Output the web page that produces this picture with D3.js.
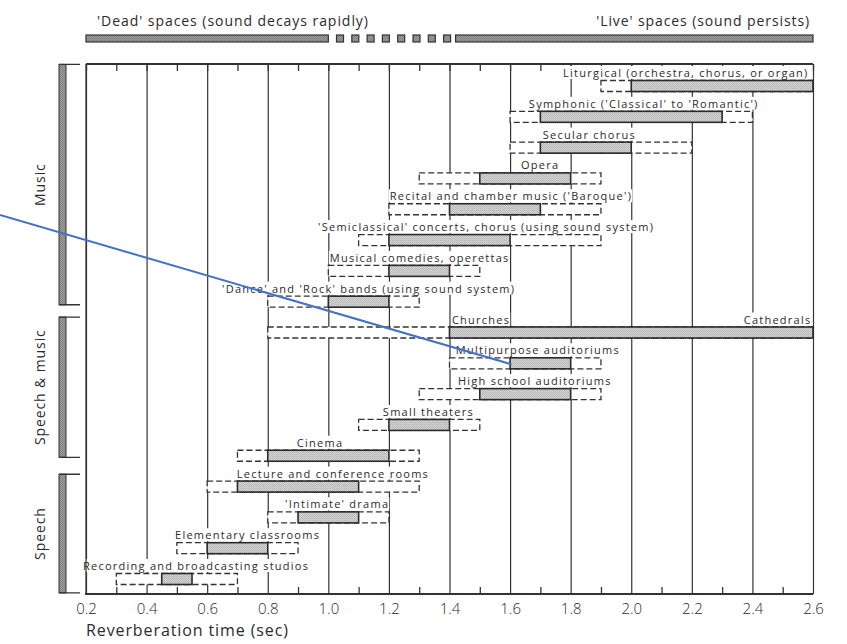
<!DOCTYPE html>
<html>
<head>
<meta charset="utf-8">
<script src="https://cdn.jsdelivr.net/npm/d3@7"></script>
<style>
  html, body { margin: 0; padding: 0; background: #fff; }
  svg { display: block; }
  text { font-family: "Open Sans", "DejaVu Sans", sans-serif; fill: #2b2b2b; }
</style>
</head>
<body>
<svg id="chart" width="847" height="644"></svg>
<script>
// Room types and their recommended reverberation times (seconds).
const rooms = [
  "Liturgical (orchestra, chorus, or organ)",
  "Symphonic ('Classical' to 'Romantic')",
  "Secular chorus",
  "Opera",
  "Recital and chamber music ('Baroque')",
  "'Semiclassical' concerts, chorus (using sound system)",
  "Musical comedies, operettas",
  "'Dance' and 'Rock' bands (using sound system)",
  "Churches",
  "Multipurpose auditoriums",
  "High school auditoriums",
  "Small theaters",
  "Cinema",
  "Lecture and conference rooms",
  "'Intimate' drama",
  "Elementary classrooms",
  "Recording and broadcasting studios"
];
// Acceptable range (dashed outline)
const rangeLow  = [1.9, 1.6, 1.6, 1.3, 1.2, 1.1, 1.0, 0.8, 0.8, 1.4, 1.3, 1.1, 0.7, 0.6, 0.8, 0.5, 0.3];
const rangeHigh = [2.6, 2.4, 2.2, 1.9, 1.9, 1.9, 1.5, 1.3, 2.6, 1.9, 1.9, 1.5, 1.3, 1.3, 1.2, 0.9, 0.7];
// Preferred range (shaded bar)
const bestLow   = [2.0, 1.7, 1.7, 1.5, 1.4, 1.2, 1.2, 1.0, 1.4, 1.6, 1.5, 1.2, 0.8, 0.7, 0.9, 0.6, 0.45];
const bestHigh  = [2.6, 2.3, 2.0, 1.8, 1.7, 1.6, 1.4, 1.2, 2.6, 1.8, 1.8, 1.4, 1.2, 1.1, 1.1, 0.8, 0.55];
// Where each caption starts, in seconds
const labelAt   = [1.775, 1.662, 1.708, 1.636, 1.203, 0.966, 1.005, 0.649, 1.408, 1.421, 1.428, 1.18, 0.896, 0.698, 0.857, 0.494, 0.19];

// Use groups (row span)
const groupNames = ["Music", "Speech & music", "Speech"];
const groupFrom  = [-0.7, 7.5, 12.6];
const groupTo    = [7.1, 12.05, 16.45];

const majorTicks = [0.2, 0.4, 0.6, 0.8, 1.0, 1.2, 1.4, 1.6, 1.8, 2.0, 2.2, 2.4, 2.6];
const minorTicks = [0.3, 0.5, 0.7, 0.9, 1.1, 1.3, 1.5, 1.7, 1.9, 2.1, 2.3, 2.5];

const svg = d3.select("#chart");

// Fine stipple used for the shaded bars
const defs = svg.append("defs");
const pat = defs.append("pattern").attr("id", "stip").attr("patternUnits", "userSpaceOnUse")
  .attr("width", 2).attr("height", 2);
pat.append("rect").attr("width", 2).attr("height", 2).attr("fill", "#d4d4d4");
pat.append("rect").attr("width", 1).attr("height", 1).attr("fill", "#b4b4b4");
pat.append("rect").attr("x", 1).attr("y", 1).attr("width", 1).attr("height", 1).attr("fill", "#bebebe");

const patD = defs.append("pattern").attr("id", "stipDark").attr("patternUnits", "userSpaceOnUse")
  .attr("width", 2).attr("height", 2);
patD.append("rect").attr("width", 2).attr("height", 2).attr("fill", "#9c9c9c");
patD.append("rect").attr("width", 1).attr("height", 1).attr("fill", "#7c7c7c");
patD.append("rect").attr("x", 1).attr("y", 1).attr("width", 1).attr("height", 1).attr("fill", "#888");

const plotTop = 64, plotBottom = 594;
const x = d3.scaleLinear().domain([0.2, 2.6]).range([86, 813]);
const y = d3.scaleLinear().domain([0, rooms.length - 1]).range([86, 579]);
const barH = 11;

// Grid lines and bottom tick labels
const gx = svg.append("g").attr("transform", `translate(0,${plotBottom})`)
  .call(d3.axisBottom(x).tickValues(majorTicks).tickSize(-(plotBottom - plotTop)).tickPadding(9)
        .tickFormat(d3.format(".1f")));
gx.select(".domain").remove();
gx.selectAll(".tick line").attr("stroke", "#333").attr("stroke-width", 1.2);
gx.selectAll(".tick text").attr("font-size", 15).attr("fill", "#444")
  .style("font-family", "'Open Sans', sans-serif").attr("font-weight", 300);

// Minor ticks, bottom (pointing up) and top (pointing down)
const gb = svg.append("g").attr("transform", `translate(0,${plotBottom})`)
  .call(d3.axisBottom(x).tickValues(minorTicks).tickSize(-7).tickFormat(""));
gb.select(".domain").remove();
gb.selectAll(".tick line").attr("stroke", "#333").attr("stroke-width", 1.3);
const gt = svg.append("g").attr("transform", `translate(0,${plotTop})`)
  .call(d3.axisTop(x).tickValues(minorTicks.concat(majorTicks)).tickSize(-7).tickFormat(""));
gt.select(".domain").remove();
gt.selectAll(".tick line").attr("stroke", "#333").attr("stroke-width", 1.3);

// Frame top and bottom
svg.append("line").attr("x1", x(0.2)).attr("x2", x(2.6)).attr("y1", plotTop).attr("y2", plotTop)
  .attr("stroke", "#333").attr("stroke-width", 2);
svg.append("line").attr("x1", x(0.2) - 1).attr("x2", x(2.6)).attr("y1", plotBottom).attr("y2", plotBottom)
  .attr("stroke", "#333").attr("stroke-width", 2);

// Captions with white backing
const capFont = 11, capSpacing = 1.25;
const idx = d3.range(rooms.length);
const capG = svg.append("g");
const caps = capG.selectAll("g.cap").data(idx).join("g").attr("class", "cap");
caps.append("text")
  .attr("x", i => x(labelAt[i])).attr("y", i => y(i) - 9)
  .attr("font-size", capFont).attr("letter-spacing", capSpacing)
  .text(i => rooms[i]);
// second caption on the churches row
const cath = capG.append("g").attr("class", "cap");
cath.append("text").attr("x", x(2.595)).attr("y", y(8) - 9).attr("text-anchor", "end")
  .attr("font-size", capFont).attr("letter-spacing", capSpacing).text("Cathedrals");
capG.selectAll("g.cap").each(function () {
  const t = d3.select(this).select("text");
  const b = t.node().getBBox();
  d3.select(this).insert("rect", "text")
    .attr("x", b.x - 1).attr("y", b.y + 1).attr("width", b.width + 1).attr("height", b.height - 2)
    .attr("fill", "#fff");
});

// Acceptable range boxes
svg.append("g").selectAll("rect").data(idx).join("rect")
  .attr("x", i => x(rangeLow[i])).attr("y", i => y(i) - barH / 2)
  .attr("width", i => x(rangeHigh[i]) - x(rangeLow[i])).attr("height", barH)
  .attr("fill", "#fff").attr("stroke", "#333").attr("stroke-width", 1.3)
  .attr("stroke-dasharray", "6,3");

// Preferred range bars
svg.append("g").selectAll("rect").data(idx).join("rect")
  .attr("x", i => x(bestLow[i])).attr("y", i => y(i) - barH / 2)
  .attr("width", i => x(bestHigh[i]) - x(bestLow[i])).attr("height", barH)
  .attr("fill", "url(#stip)").attr("stroke", "#2a2a2a").attr("stroke-width", 1.6);

// Left frame line
svg.append("line").attr("x1", x(0.2)).attr("x2", x(0.2)).attr("y1", plotTop).attr("y2", plotBottom)
  .attr("stroke", "#333").attr("stroke-width", 1.2);

// Use group brackets
const gg = svg.append("g");
groupNames.forEach((name, k) => {
  const y0 = y(groupFrom[k]), y1 = y(groupTo[k]);
  gg.append("rect").attr("x", 59).attr("y", y0).attr("width", 7).attr("height", y1 - y0)
    .attr("fill", "url(#stipDark)").attr("stroke", "#333").attr("stroke-width", 1);
  gg.append("path").attr("d", `M59,${y0}H80M59,${y1}H80`).attr("stroke", "#333")
    .attr("stroke-width", 1.3).attr("fill", "none");
  gg.append("text").attr("transform", `translate(45,${(y0 + y1) / 2}) rotate(-90)`)
    .attr("text-anchor", "middle").attr("font-size", 14).attr("letter-spacing", 0.9)
    .attr("fill", "#444").text(name);
});

// Dead / live scale across the top
const headerY = 35, headerH = 7;
svg.append("rect").attr("x", x(0.2)).attr("y", headerY).attr("width", x(1.0) - x(0.2)).attr("height", headerH)
  .attr("fill", "url(#stipDark)").attr("stroke", "#333").attr("stroke-width", 1.2);
svg.append("rect").attr("x", x(1.42)).attr("y", headerY).attr("width", x(2.6) - x(1.42)).attr("height", headerH)
  .attr("fill", "url(#stipDark)").attr("stroke", "#333").attr("stroke-width", 1.2);
const squares = d3.range(8).map(i => 1.027 + i * 0.0505);
svg.append("g").selectAll("rect").data(squares).join("rect")
  .attr("x", d => x(d)).attr("y", headerY).attr("width", 7).attr("height", headerH)
  .attr("fill", "url(#stipDark)").attr("stroke", "#333").attr("stroke-width", 1.2);

svg.append("text").attr("x", 97).attr("y", 26).attr("font-size", 14).attr("letter-spacing", 0.95)
  .attr("fill", "#444").text("'Dead' spaces (sound decays rapidly)");
svg.append("text").attr("x", 810).attr("y", 26).attr("text-anchor", "end").attr("font-size", 14)
  .attr("letter-spacing", 0.9).attr("fill", "#444").text("'Live' spaces (sound persists)");

// Axis title
svg.append("text").attr("x", 86).attr("y", 636).attr("font-size", 16).attr("letter-spacing", 0.9)
  .attr("fill", "#444").text("Reverberation time (sec)");

// Pointer line onto the multipurpose auditoriums bar
svg.append("line").attr("x1", 0).attr("y1", 215).attr("x2", x(1.605)).attr("y2", y(9) + 1)
  .attr("stroke", "#4472c4").attr("stroke-width", 2);
</script>
</body>
</html>
